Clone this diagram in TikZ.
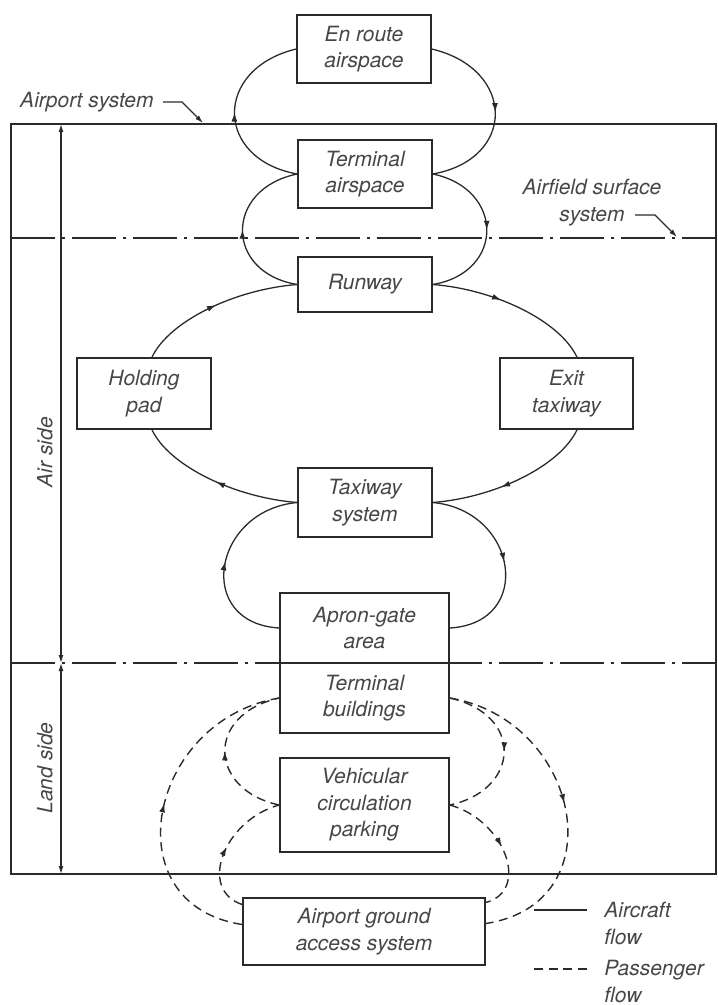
\documentclass[tikz,border=0pt]{standalone}
\usepackage{fontspec}
\setmainfont{TeX Gyre Heros}
\usetikzlibrary{arrows.meta,decorations.markings,calc}
\definecolor{linec}{HTML}{2A2A2A}
\definecolor{textc}{HTML}{474747}
\tikzset{
  box/.style={draw=linec, line width=0.8pt, fill=white, inner sep=0pt, align=center, text=textc},
  flow/.style={draw=linec, line width=0.65pt, postaction={decorate},
    decoration={markings, mark=at position #1 with {\arrow{Latex[length=4.5pt,width=3pt]}}}},
  flow/.default=0.5,
  pflow/.style={flow=#1, line width=0.7pt, dash pattern=on 4.5pt off 2.8pt},
  pflow/.default=0.5,
  framebox/.style={draw=linec, line width=0.8pt},
  dashdot/.style={draw=linec, line width=0.75pt, dash pattern=on 22pt off 3.5pt on 1.5pt off 3.5pt},
  dimline/.style={draw=linec, line width=0.6pt, {Latex[length=4pt,width=2.5pt]}-{Latex[length=4pt,width=2.5pt]}},
  leader/.style={draw=linec, line width=0.6pt, -{Latex[length=4pt,width=2.5pt]}},
  legsolid/.style={draw=linec, line width=0.65pt},
  legdash/.style={draw=linec, line width=0.7pt, dash pattern=on 4.5pt off 2.8pt},
  lbl/.style={inner sep=0pt, text=textc}
}
\begin{document}
\begin{tikzpicture}[x=0.5pt, y=-0.5pt, font=\fontsize{10.5}{13.3}\selectfont\itshape]
\useasboundingbox (0,0) rectangle (717,1005);

% frame and separator lines
\coordinate (f1) at (11,124);
\coordinate (f2) at (716,874);
\draw[framebox] (f1) rectangle (f2);
\coordinate (h1a) at (11,238);
\coordinate (h1b) at (716,238);
\coordinate (h2a) at (11,663);
\coordinate (h2b) at (716,663);
\draw[dashdot] (h1a) -- (h1b);
\draw[dashdot] (h2a) -- (h2b);

% dimension line
\coordinate (d1) at (61,124);
\coordinate (d2) at (61,663);
\coordinate (d3) at (61,874);
\draw[dimline] (d1) -- (d2);
\draw[dimline] (d2) -- (d3);
\node[lbl, rotate=90] (airside) at (45,452) {Air side};
\node[lbl, rotate=90] (landside) at (45,768) {Land side};

% labels with leaders
\node[lbl, anchor=east] (asl) at (154,102) {Airport system};
\coordinate (as1) at (163,102);
\coordinate (as2) at (182,102);
\coordinate (as3) at (203,123);
\draw[leader] (as1) -- (as2) -- (as3);
\node[lbl, align=center] (afl) at (592,202.5) {Airfield surface\\system};
\coordinate (af1) at (635,215);
\coordinate (af2) at (655,215);
\coordinate (af3) at (677,237);
\draw[leader] (af1) -- (af2) -- (af3);

% boxes
\node[box, minimum width=67pt, minimum height=34pt] (er) at (364,49) {En route\\airspace};
\node[box, minimum width=67pt, minimum height=34pt] (ta) at (365,174) {Terminal\\airspace};
\node[box, minimum width=67pt, minimum height=27.5pt] (rw) at (365,284.5) {Runway};
\node[box, minimum width=67pt, minimum height=35.5pt] (hp) at (144,393.5) {Holding\\pad};
\node[box, minimum width=66.5pt, minimum height=35.5pt] (ex) at (566.5,393.5) {Exit\\taxiway};
\node[box, minimum width=67pt, minimum height=34.5pt] (tx) at (365,502.5) {Taxiway\\system};
\node[box, minimum width=84.5pt, minimum height=35pt] (ap) at (364.5,628) {Apron-gate\\area};
\node[box, minimum width=84.5pt, minimum height=35pt] (tb) at (364.5,698) {Terminal\\buildings};
\node[box, minimum width=84.5pt, minimum height=47pt] (vc) at (364.5,805) {Vehicular\\circulation\\parking};
\node[box, minimum width=121pt, minimum height=33.5pt] (gr) at (364,931.5) {Airport ground\\access system};

% aircraft flow: en route <-> terminal airspace
\draw[flow] (ta.west) .. controls ($(ta.west)+(-83,-15)$) and ($(er.west)+(-83,20)$) .. (er.west);
\draw[flow] (er.east) .. controls ($(er.east)+(84,20)$) and ($(ta.east)+(84,-15)$) .. (ta.east);
% terminal airspace <-> runway
\draw[flow] (rw.west) .. controls ($(rw.west)+(-73,-12)$) and ($(ta.west)+(-73,15)$) .. (ta.west);
\draw[flow] (ta.east) .. controls ($(ta.east)+(72,15)$) and ($(rw.east)+(72,-12)$) .. (rw.east);
% runway / holding pad / exit taxiway / taxiway
\coordinate (hpt) at ($(hp.north)+(8,0)$);
\coordinate (hpb) at ($(hp.south)+(8,0)$);
\coordinate (ext) at ($(ex.north)+(10.5,0)$);
\coordinate (exb) at ($(ex.south)+(10.5,0)$);
\draw[flow] (hpt) .. controls ($(hpt)+(17,-36)$) and ($(rw.west)+(-63,5)$) .. (rw.west);
\draw[flow=0.42] (rw.east) .. controls ($(rw.east)+(63,5)$) and ($(ext)+(-17,-36)$) .. (ext);
\draw[flow=0.58] (exb) .. controls ($(exb)+(-17,36)$) and ($(tx.east)+(63,-5)$) .. (tx.east);
\draw[flow] (tx.west) .. controls ($(tx.west)+(-63,-5)$) and ($(hpb)+(17,36)$) .. (hpb);
% taxiway <-> apron
\draw[flow] (ap.west) .. controls ($(ap.west)+(-85,-5)$) and ($(tx.west)+(-85,8)$) .. (tx.west);
\draw[flow] (tx.east) .. controls ($(tx.east)+(85,8)$) and ($(ap.east)+(85,-5)$) .. (ap.east);

% passenger flow
\coordinate (glo) at ($(gr.west)+(0,-7)$);
\coordinate (gli) at ($(gr.west)+(0,-27)$);
\coordinate (gro) at ($(gr.east)+(0,-8)$);
\coordinate (gri) at ($(gr.east)+(0,-29)$);
\draw[pflow] (glo) .. controls ($(glo)+(-131,-20)$) and ($(tb.west)+(-131,22)$) .. (tb.west);
\draw[pflow] (vc.west) .. controls ($(vc.west)+(-70,-15)$) and ($(tb.west)+(-75,17)$) .. (tb.west);
\draw[pflow] (gli) .. controls ($(gli)+(-45,-15)$) and ($(vc.west)+(-55,15)$) .. (vc.west);
\draw[pflow] (tb.east) .. controls ($(tb.east)+(131,22)$) and ($(gro)+(131,-20)$) .. (gro);
\draw[pflow] (tb.east) .. controls ($(tb.east)+(75,17)$) and ($(vc.east)+(70,-15)$) .. (vc.east);
\draw[pflow] (vc.east) .. controls ($(vc.east)+(55,15)$) and ($(gri)+(45,-12)$) .. (gri);

% legend
\coordinate (la1) at (534,910);
\coordinate (la2) at (587,910);
\draw[legsolid] (la1) -- (la2);
\node[lbl, anchor=west, align=left] (lat) at (604,923.5) {Aircraft\\flow};
\coordinate (lp1) at (534,969);
\coordinate (lp2) at (587,969);
\draw[legdash] (lp1) -- (lp2);
\node[lbl, anchor=west, align=left] (lpt) at (604,981.5) {Passenger\\flow};
\end{tikzpicture}
\end{document}
